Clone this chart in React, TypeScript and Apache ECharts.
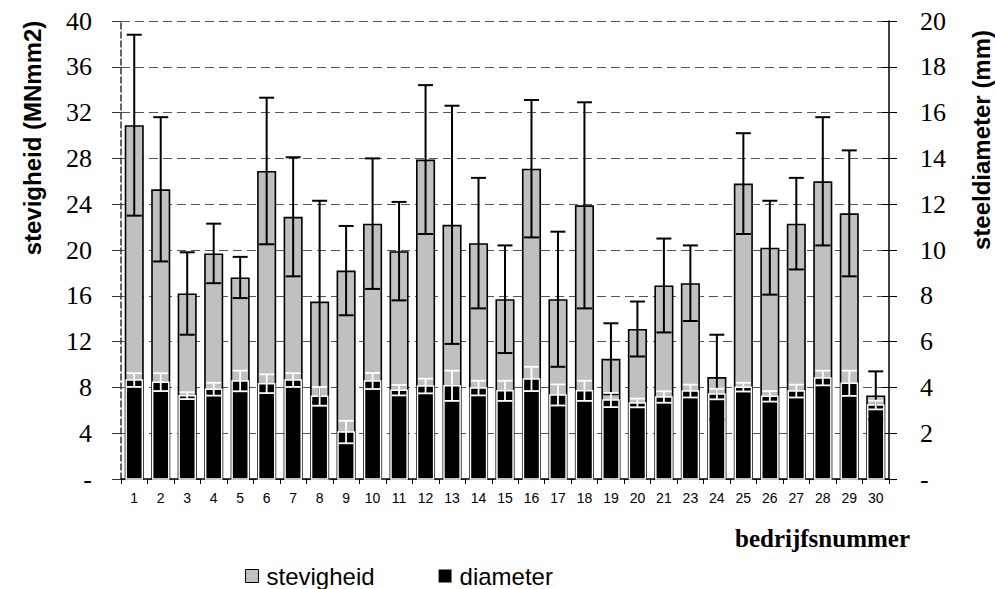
import React, { useEffect, useRef } from "react";
import * as echarts from "echarts";

// Company numbers (no. 22 is absent from the survey)
const categories = [
  "1", "2", "3", "4", "5", "6", "7", "8", "9", "10",
  "11", "12", "13", "14", "15", "16", "17", "18", "19", "20",
  "21", "23", "24", "25", "26", "27", "28", "29", "30",
];

// Stem stiffness (MNmm2), mean and standard deviation
const stevigheid = [
  30.9, 25.3, 16.2, 19.7, 17.6, 26.9, 22.9, 15.5, 18.2, 22.3,
  19.9, 27.9, 22.2, 20.6, 15.7, 27.1, 15.7, 23.9, 10.5, 13.1,
  16.9, 17.1, 8.9, 25.8, 20.2, 22.3, 26.0, 23.2, 7.3,
];
const stevigheidSd = [
  7.9, 6.3, 3.6, 2.6, 1.8, 6.4, 5.2, 8.8, 3.9, 5.7,
  4.3, 6.5, 10.4, 5.7, 4.7, 6.0, 5.9, 9.0, 3.1, 2.4,
  4.1, 3.3, 3.7, 4.4, 4.1, 4.0, 5.6, 5.5, 2.1,
];

// Stem diameter (mm), mean and standard deviation
const diameter = [
  4.32, 4.23, 3.64, 3.92, 4.28, 4.16, 4.32, 3.61, 2.05, 4.28,
  3.88, 4.06, 4.07, 3.97, 3.85, 4.37, 3.67, 3.85, 3.45, 3.32,
  3.58, 3.84, 3.71, 4.01, 3.61, 3.84, 4.41, 4.18, 3.23,
];
const diameterSd = [
  0.3, 0.39, 0.15, 0.28, 0.45, 0.41, 0.3, 0.41, 0.49, 0.35,
  0.23, 0.32, 0.66, 0.32, 0.44, 0.53, 0.46, 0.44, 0.31, 0.19,
  0.25, 0.28, 0.23, 0.19, 0.23, 0.28, 0.32, 0.55, 0.19,
];

const SERIF = "'Liberation Serif', 'Times New Roman', serif";
const SANS = "'Liberation Sans', Arial, sans-serif";
const GREY = "#c0c0c0";

// whisker drawn from (value - sd) to (value + sd) with horizontal caps
function errorBar(color: string, width: number, cap: number) {
  return (_params: any, api: any) => {
    const i = api.value(0);
    const v = api.value(1);
    const sd = api.value(2);
    const hi = api.coord([i, v + sd]);
    const lo = api.coord([i, v - sd]);
    const h = cap / 2;
    const style = { stroke: color, lineWidth: width };
    return {
      type: "group",
      children: [
        { type: "line", shape: { x1: hi[0], y1: hi[1], x2: lo[0], y2: lo[1] }, style },
        { type: "line", shape: { x1: hi[0] - h, y1: hi[1], x2: hi[0] + h, y2: hi[1] }, style },
        { type: "line", shape: { x1: lo[0] - h, y1: lo[1], x2: lo[0] + h, y2: lo[1] }, style },
      ],
    };
  };
}

// narrower black column with a white outline, nested inside the grey one
function innerBar(_params: any, api: any) {
  const i = api.value(0);
  const v = api.value(1);
  const top = api.coord([i, v]);
  const base = api.coord([i, 0]);
  const w = api.size([1, 0])[0] * 0.61;
  return {
    type: "rect",
    shape: { x: top[0] - w / 2, y: top[1], width: w, height: base[1] - top[1] },
    style: { fill: "#000", stroke: "#fff", lineWidth: 1.5 },
  };
}

export default function App() {
  const ref = useRef<HTMLDivElement>(null);

  useEffect(() => {
    if (!ref.current) return;
    const chart = echarts.init(ref.current, undefined, { renderer: "svg" });

    const gridBox = { left: 121, right: 106, top: 21, bottom: 110 };

    chart.setOption({
      animation: false,
      backgroundColor: "#fff",
      grid: [gridBox, { ...gridBox }],
      legend: {
        left: 240,
        top: 559,
        itemWidth: 13,
        itemHeight: 13,
        itemGap: 64,
        icon: "rect",
        textStyle: { fontFamily: SANS, fontSize: 24, color: "#000", padding: [0, 0, 0, 3] },
        data: [
          { name: "stevigheid", itemStyle: { color: GREY, borderColor: "#000", borderWidth: 1 } },
          { name: "diameter", itemStyle: { color: "#000", borderWidth: 0 } },
        ],
      },
      xAxis: [
        {
          type: "category",
          gridIndex: 0,
          data: categories,
          axisLine: { lineStyle: { color: "#000", width: 1.5 } },
          axisTick: { show: true, length: 5, lineStyle: { color: "#000" } },
          axisLabel: { fontFamily: SANS, fontSize: 14, color: "#000", margin: 12, interval: 0 },
        },
        { type: "category", gridIndex: 1, data: categories, show: false },
      ],
      yAxis: [
        {
          type: "value",
          gridIndex: 0,
          position: "left",
          min: 0,
          max: 40,
          interval: 4,
          axisLine: { show: true, lineStyle: { color: "#333", width: 1.5, type: [6, 3] } },
          axisTick: { show: true, length: 9, lineStyle: { color: "#333" } },
          axisLabel: {
            fontFamily: SERIF,
            fontSize: 26,
            color: "#000",
            margin: 29,
            formatter: (v: number) => (v === 0 ? "-" : String(v)),
          },
          splitLine: { show: true, lineStyle: { color: "#555", width: 1, type: [9, 5] } },
        },
        {
          type: "value",
          gridIndex: 0,
          position: "right",
          min: 0,
          max: 20,
          interval: 2,
          axisLine: { show: true, lineStyle: { color: "#000", width: 1.5 } },
          axisTick: { show: true, length: 8, lineStyle: { color: "#000" } },
          axisLabel: {
            fontFamily: SERIF,
            fontSize: 26,
            color: "#000",
            margin: 31,
            formatter: (v: number) => (v === 0 ? "-" : String(v)),
          },
          splitLine: { show: false },
        },
        {
          // inner half of the crossing ticks on the right-hand axis
          type: "value",
          gridIndex: 1,
          position: "right",
          min: 0,
          max: 20,
          interval: 2,
          axisLine: { show: false },
          axisTick: { show: true, inside: true, length: 7, lineStyle: { color: "#000" } },
          axisLabel: { show: false },
          splitLine: { show: false },
        },
      ],
      series: [
        {
          name: "stevigheid",
          type: "bar",
          xAxisIndex: 0,
          yAxisIndex: 0,
          barWidth: "72%",
          data: stevigheid,
          itemStyle: { color: GREY, borderColor: "#000", borderWidth: 1.6 },
          z: 2,
        },
        {
          name: "diameter",
          type: "custom",
          xAxisIndex: 0,
          yAxisIndex: 1,
          renderItem: innerBar,
          encode: { x: 0, y: 1 },
          data: diameter.map((v, i) => [i, v]),
          itemStyle: { color: "#000" },
          z: 3,
        },
        {
          name: "stevigheid-sd",
          type: "custom",
          xAxisIndex: 0,
          yAxisIndex: 0,
          renderItem: errorBar("#000", 2, 15),
          encode: { x: 0, y: 1 },
          data: stevigheid.map((v, i) => [i, v, stevigheidSd[i]]),
          z: 4,
        },
        {
          name: "diameter-sd",
          type: "custom",
          xAxisIndex: 0,
          yAxisIndex: 1,
          renderItem: errorBar("#fff", 1.8, 15),
          encode: { x: 0, y: 1 },
          data: diameter.map((v, i) => [i, v, diameterSd[i]]),
          z: 5,
        },
      ],
      graphic: [
        {
          type: "text",
          x: 32,
          y: 138,
          rotation: Math.PI / 2,
          style: {
            text: "stevigheid (MNmm2)",
            fontFamily: SANS,
            fontWeight: "bold",
            fontSize: 24,
            fill: "#000",
            align: "center",
            verticalAlign: "middle",
          },
        },
        {
          type: "text",
          x: 981,
          y: 140,
          rotation: Math.PI / 2,
          style: {
            text: "steeldiameter (mm)",
            fontFamily: SANS,
            fontWeight: "bold",
            fontSize: 24,
            fill: "#000",
            align: "center",
            verticalAlign: "middle",
          },
        },
        {
          type: "text",
          x: 910,
          y: 538,
          style: {
            text: "bedrijfsnummer",
            fontFamily: SERIF,
            fontWeight: "bold",
            fontSize: 25,
            fill: "#000",
            align: "right",
            verticalAlign: "middle",
          },
        },
      ],
    });

    return () => chart.dispose();
  }, []);

  return (
    <div
      ref={ref}
      style={{ position: "absolute", left: 0, top: 0, width: 995, height: 589 }}
    />
  );
}
